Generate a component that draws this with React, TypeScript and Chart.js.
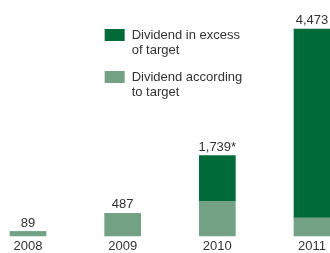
import React, { useEffect, useRef } from "react";
import { Chart, registerables } from "chart.js";

Chart.register(...registerables);

const years = ["2008", "2009", "2010", "2011"];
const targetValues = [89, 487, 750, 390];
const excessValues = [0, 0, 989, 4083];
const totalLabels = ["89", "487", "1,739*", "4,473"];
const legendExcess = ["Dividend in excess", "of target"];
const legendTarget = ["Dividend according", "to target"];

const DARK = "#006b39";
const LIGHT = "#72a283";
const TEXT = "#333333";
const FONT = "13px 'Liberation Sans', Arial, sans-serif";

export default function App() {
  const ref = useRef<HTMLCanvasElement | null>(null);

  useEffect(() => {
    if (!ref.current) return;
    const overlay = {
      id: "overlay",
      afterDatasetsDraw(chart: any) {
        const ctx = chart.ctx;
        const x = chart.scales.x;
        const y = chart.scales.y;
        ctx.save();
        ctx.font = FONT;
        ctx.fillStyle = TEXT;
        ctx.textAlign = "center";
        ctx.textBaseline = "alphabetic";
        years.forEach((_, i) => {
          const total = targetValues[i] + excessValues[i];
          const px = x.getPixelForValue(i);
          const py = y.getPixelForValue(total);
          ctx.fillText(totalLabels[i], px, py - 5);
        });
        // legend
        const left = x.getPixelForValue(1) - 18;
        const items = [
          { color: DARK, lines: legendExcess, top: 29 },
          { color: LIGHT, lines: legendTarget, top: 71 },
        ];
        items.forEach((it) => {
          ctx.fillStyle = it.color;
          ctx.fillRect(left, it.top, 20, 12);
          ctx.fillStyle = TEXT;
          ctx.textAlign = "left";
          ctx.textBaseline = "middle";
          it.lines.forEach((ln, k) => {
            ctx.fillText(ln, left + 27, it.top + 6 + k * 15);
          });
        });
        ctx.restore();
      },
    };
    const chart = new Chart(ref.current, {
      type: "bar",
      data: {
        labels: years,
        datasets: [
          {
            label: legendTarget.join(" "),
            data: targetValues,
            backgroundColor: LIGHT,
            barThickness: 36,
            clip: false,
          } as any,
          {
            label: legendExcess.join(" "),
            data: excessValues,
            backgroundColor: DARK,
            barThickness: 36,
            clip: false,
          } as any,
        ],
      },
      options: {
        responsive: false,
        animation: false,
        layout: { padding: { left: 28, right: 18, top: 0, bottom: -4 } },
        plugins: { legend: { display: false }, tooltip: { enabled: false } },
        scales: {
          x: {
            stacked: true,
            offset: false,
            grid: { display: false, drawTicks: false },
            border: { display: false },
            ticks: {
              padding: 4,
              color: TEXT,
              autoSkip: false,
              maxRotation: 0,
              font: { family: "'Liberation Sans', Arial, sans-serif", size: 13, lineHeight: 1 },
            },
          },
          y: {
            stacked: true,
            display: false,
            min: 0,
            max: 5100,
          },
        },
      },
      plugins: [overlay],
    });
    return () => chart.destroy();
  }, []);

  return (
    <div style={{ position: "absolute", left: 0, top: 0, width: 330, height: 253, background: "#fff" }}>
      <canvas ref={ref} width={330} height={253} style={{ display: "block" }} />
    </div>
  );
}
